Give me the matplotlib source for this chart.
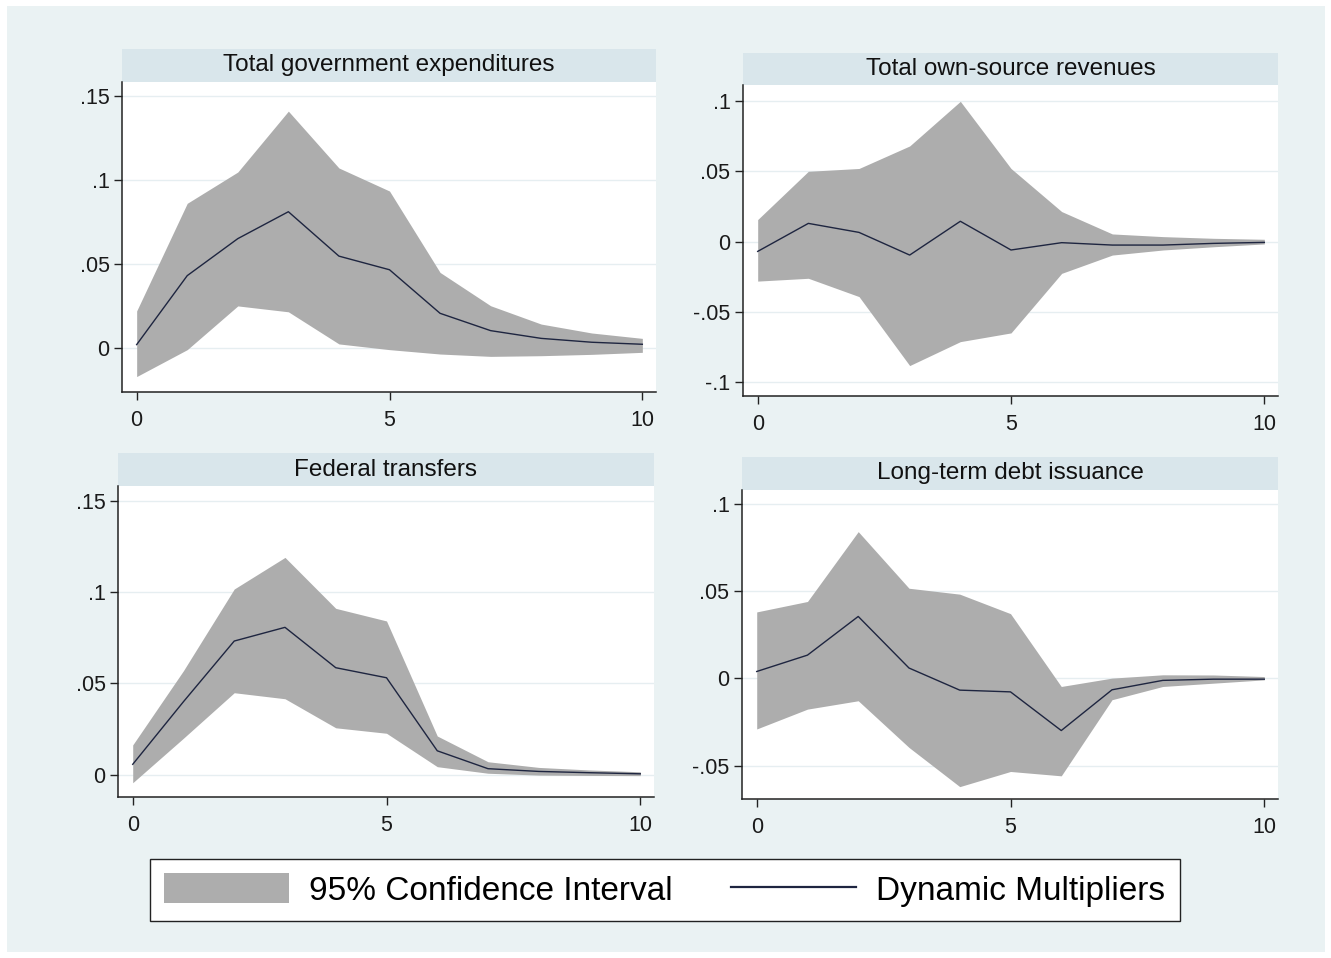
import matplotlib
matplotlib.use("Agg")
import matplotlib.pyplot as plt
from matplotlib.patches import Rectangle, Patch
from matplotlib.lines import Line2D

plt.rcParams['font.family'] = ['Liberation Sans', 'DejaVu Sans']

# ---------------- data ----------------
horizon = [0, 1, 2, 3, 4, 5, 6, 7, 8, 9, 10]

titles = ["Total government expenditures", "Total own-source revenues",
          "Federal transfers", "Long-term debt issuance"]

exp_irf = [0.002, 0.043, 0.065, 0.081, 0.0546, 0.0465, 0.0206, 0.0103, 0.0057, 0.0034, 0.0022]
exp_lo = [-0.017, -0.001, 0.025, 0.0215, 0.0024, -0.001, -0.0036, -0.005, -0.0046, -0.0038, -0.0026]
exp_hi = [0.022, 0.086, 0.1046, 0.1408, 0.107, 0.0933, 0.0449, 0.0251, 0.0142, 0.0089, 0.0057]

rev_irf = [-0.0069, 0.013, 0.0066, -0.0095, 0.0145, -0.0059, -0.0007, -0.0024, -0.0024, -0.0012, -0.0005]
rev_lo = [-0.028, -0.026, -0.039, -0.088, -0.071, -0.0648, -0.0225, -0.0095, -0.0059, -0.0036, -0.0016]
rev_hi = [0.0157, 0.050, 0.052, 0.068, 0.0997, 0.052, 0.0214, 0.0055, 0.0036, 0.0024, 0.0017]

fed_irf = [0.0057, 0.040, 0.0732, 0.0807, 0.0586, 0.0531, 0.0131, 0.0033, 0.0018, 0.0011, 0.0005]
fed_lo = [-0.0044, 0.020, 0.0449, 0.0416, 0.0257, 0.0227, 0.0044, 0.0008, -0.0002, -0.0004, -0.0005]
fed_hi = [0.0163, 0.057, 0.1017, 0.119, 0.0911, 0.0842, 0.0212, 0.0071, 0.004, 0.0026, 0.0016]

debt_irf = [0.004, 0.0134, 0.0356, 0.006, -0.0067, -0.0077, -0.0299, -0.0065, -0.0011, -0.0004, -0.0004]
debt_lo = [-0.029, -0.0176, -0.0128, -0.0396, -0.0621, -0.0534, -0.0559, -0.0122, -0.0046, -0.0027, -0.0008]
debt_hi = [0.0382, 0.0442, 0.0843, 0.0518, 0.0484, 0.0372, -0.0046, 0.0002, 0.0021, 0.002, 0.0011]

x_ticks = [0, 5, 10]
x_ticklabels = ["0", "5", "10"]
yticks_a = [0, 0.05, 0.10, 0.15]
yticklabels_a = ["0", ".05", ".1", ".15"]
yticks_b = [-0.10, -0.05, 0, 0.05, 0.10]
yticklabels_b = ["-.1", "-.05", "0", ".05", ".1"]
yticks_d = [-0.05, 0, 0.05, 0.10]
yticklabels_d = ["-.05", "0", ".05", ".1"]

legend_labels = ["95% Confidence Interval", "Dynamic Multipliers"]

# ---------------- style ----------------
W, H = 1331, 958
BG = '#eaf2f3'
BAR = '#d9e6eb'
FILL = '#adadad'
LINE = '#1e2540'
GRID = '#e6eef1'

fig = plt.figure(figsize=(W / 100, H / 100), dpi=100)
fig.patch.set_facecolor('white')
fig.add_artist(Rectangle((7 / W, 6 / H), (1325 - 7) / W, (952 - 6) / H,
                         transform=fig.transFigure, facecolor=BG,
                         edgecolor='none', zorder=-10))

# panel layout in pixels: left, right, plot top, plot bottom, title top
layout = [
    (122, 656, 81.7, 391.7, 49),
    (743, 1278, 85, 395.7, 53),
    (118, 654, 486, 797, 453),
    (742, 1278, 490, 799, 457),
]
ylims = [(-0.026, 0.1583), (-0.1094, 0.1113), (-0.0122, 0.1581), (-0.0692, 0.1082)]
series = [(exp_lo, exp_hi, exp_irf), (rev_lo, rev_hi, rev_irf),
          (fed_lo, fed_hi, fed_irf), (debt_lo, debt_hi, debt_irf)]
yt = [(yticks_a, yticklabels_a), (yticks_b, yticklabels_b),
      (yticks_a, yticklabels_a), (yticks_d, yticklabels_d)]

for i in range(4):
    l, r, t, b, tt = layout[i]
    ax = fig.add_axes([l / W, 1 - b / H, (r - l) / W, (b - t) / H])
    ax.set_facecolor('white')
    lo, hi, irf = series[i]
    ax.fill_between(horizon, lo, hi, color=FILL, lw=0, zorder=2)
    ax.plot(horizon, irf, color=LINE, lw=1.0, zorder=3)
    ax.set_xlim(-0.29, 10.27)
    ax.set_ylim(*ylims[i])
    ax.set_xticks(x_ticks)
    ax.set_xticklabels(x_ticklabels)
    ax.set_yticks(yt[i][0])
    ax.set_yticklabels(yt[i][1])
    ax.yaxis.grid(True, color=GRID, lw=1.0, zorder=1)
    ax.set_axisbelow(True)
    for s in ['top', 'right']:
        ax.spines[s].set_visible(False)
    for s in ['left', 'bottom']:
        ax.spines[s].set_linewidth(1.1)
        ax.spines[s].set_color('#222222')
    ax.tick_params(axis='both', length=6, width=1.0, color='#222222',
                   labelsize=15.5, labelcolor='#1a1a1a', direction='out')
    ax.tick_params(axis='x', pad=7)
    ax.tick_params(axis='y', pad=3)
    # title bar
    hfrac = (t - tt) / (b - t)
    ax.add_patch(Rectangle((0, 1), 1, hfrac, transform=ax.transAxes,
                           facecolor=BAR, edgecolor='none', clip_on=False))
    ax.text(0.5, 1 + hfrac / 2, titles[i], transform=ax.transAxes,
            ha='center', va='center', fontsize=17.5, color='#111111')

handles = [Patch(facecolor=FILL, edgecolor='none'),
           Line2D([], [], color=LINE, lw=1.6)]
leg = fig.legend(handles, legend_labels, loc='center',
                 bbox_to_anchor=(665 / W, 1 - 890 / H), ncol=2,
                 fontsize=24, frameon=True, fancybox=False, framealpha=1,
                 edgecolor='#222222', facecolor='white',
                 handlelength=3.75, handleheight=1.0, handletextpad=0.6,
                 columnspacing=1.75, borderpad=0.42)
leg.get_frame().set_linewidth(1.0)

fig.savefig('out.png', dpi=100, facecolor=fig.get_facecolor())
